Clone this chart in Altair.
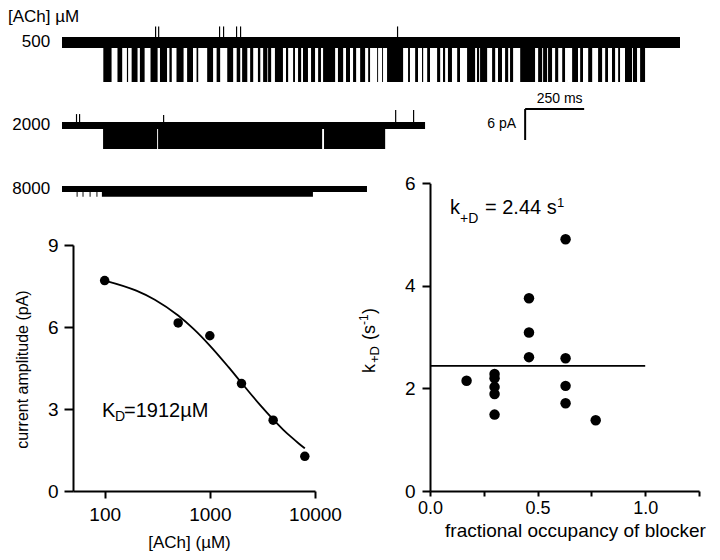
import altair as alt
import pandas as pd

# ---------------- data ----------------
# single-channel traces (times in ms from trace start, currents in pA)
conc = [500, 2000, 8000]
trace_len_ms = [2618, 1538, 1292]
trace_offset_pA = [0.0, -16.05, -28.34]
trace_noise_pA = [1.05, 0.68, 0.60]
open_noise_pA = [1.5, 0.6, 0.25]

openings_500 = [
    (175, 210), (235, 255), (275, 280), (295, 320), (330, 350), (375, 405), (415, 445),
    (455, 465), (485, 515), (530, 555), (570, 577), (615, 640), (655, 670), (700, 725),
    (740, 755), (763, 785), (797, 810), (830, 840), (852, 870), (873, 886), (902, 936),
    (949, 958), (979, 987), (1000, 1013), (1021, 1042), (1055, 1072), (1085, 1097),
    (1106, 1157), (1169, 1191), (1203, 1220), (1233, 1246), (1263, 1284), (1297, 1305),
    (1335, 1339), (1356, 1360), (1377, 1445), (1466, 1474), (1496, 1508), (1525, 1530),
    (1547, 1559), (1589, 1602), (1614, 1623), (1635, 1652), (1674, 1686), (1716, 1750),
    (1758, 1767), (1771, 1801), (1822, 1835), (1847, 1864), (1877, 1890), (1898, 1911),
    (1941, 2004), (2017, 2034), (2038, 2055), (2059, 2076), (2089, 2102), (2119, 2131),
    (2161, 2186), (2195, 2207), (2229, 2246), (2271, 2288), (2301, 2313), (2330, 2343),
    (2356, 2364), (2385, 2415), (2419, 2436), (2449, 2470),
]
openings_2000 = [(174, 403), (407, 1102), (1110, 1369)]
openings_8000 = [(62, 66), (87, 91), (117, 121), (146, 150), (169, 1063)]

spikes_500 = [394, 407, 665, 682, 737, 754, 1419]
spike_h_500 = [3.1, 3.1, 3.1, 3.1, 3.1, 3.1, 3.1]
spikes_2000 = [59, 72, 428, 1411, 1487]
spike_h_2000 = [2.2, 2.2, 2.0, 3.0, 3.0]

scalebar_ms = 250
scalebar_pA = 6

# dose-response
ach_uM = [100, 500, 1000, 2000, 4000, 8000]
amp_pA = [7.7, 6.15, 5.68, 3.93, 2.59, 1.27]
fit_conc = [100, 200, 300, 500, 700, 1000, 1500, 2000, 3000, 4000, 5000, 6000, 7000, 8000]
fit_amp = [7.70, 7.33, 7.00, 6.42, 5.93, 5.32, 4.54, 3.96, 3.15, 2.62, 2.24, 1.96, 1.74, 1.56]

# blocking rate vs occupancy
occupancy = [0.17, 0.30, 0.30, 0.30, 0.30, 0.30, 0.46, 0.46, 0.46, 0.63, 0.63, 0.63, 0.63, 0.77]
k_plus_D = [2.15, 2.28, 2.20, 2.03, 1.89, 1.49, 3.76, 3.09, 2.61, 4.91, 2.59, 2.05, 1.71, 1.38]
k_mean = 2.44
k_line_x = [0.0, 1.0]

# ---------------- tables ----------------
trace_amp = [amp_pA[ach_uM.index(c)] for c in conc]
base_rows, open_rows, spike_rows = [], [], []
all_openings = [openings_500, openings_2000, openings_8000]
for i, c in enumerate(conc):
    off = trace_offset_pA[i]
    base_rows.append(dict(t0=0, t1=trace_len_ms[i], y0=off + trace_noise_pA[i], y1=off - trace_noise_pA[i]))
    for (a, b) in all_openings[i]:
        open_rows.append(dict(t0=a, t1=b, y0=off, y1=off - trace_amp[i] - open_noise_pA[i]))
for t, h in zip(spikes_500, spike_h_500):
    spike_rows.append(dict(t0=t, t1=t + 5, y0=trace_offset_pA[0], y1=trace_offset_pA[0] + h))
for t, h in zip(spikes_2000, spike_h_2000):
    spike_rows.append(dict(t0=t, t1=t + 5, y0=trace_offset_pA[1], y1=trace_offset_pA[1] + h))
base_df = pd.DataFrame(base_rows)
open_df = pd.DataFrame(open_rows)
spike_df = pd.DataFrame(spike_rows)
lab_df = pd.DataFrame({"t": [-50] * 3, "y": trace_offset_pA, "txt": [str(c) for c in conc]})

sb_t0, sb_y0 = 1962, -12.86
sbh_df = pd.DataFrame({"t0": [sb_t0], "t1": [sb_t0 + scalebar_ms], "y": [sb_y0]})
sbv_df = pd.DataFrame({"t": [sb_t0], "y0": [sb_y0], "y1": [sb_y0 - scalebar_pA]})

dr_df = pd.DataFrame({"c": ach_uM, "a": amp_pA})
fit_df = pd.DataFrame({"c": fit_conc, "a": fit_amp})
occ_df = pd.DataFrame({"o": occupancy, "k": k_plus_D})
kline_df = pd.DataFrame({"x0": [k_line_x[0]], "x1": [k_line_x[1]], "k": [k_mean]})

FONT = "Liberation Sans"

# ---------------- scales (pixel ranges inside the 704x544 view) ----------------
tx = alt.Scale(domain=[0, 2618], range=[54, 672], nice=False, zero=False)
ty = alt.Scale(domain=[-36, 4], range=[220.6, 13.8], nice=False, zero=False)
lx = alt.Scale(type="log", domain=[50, 10000], range=[65, 307], nice=False)
ly = alt.Scale(domain=[0, 9], range=[483, 237], nice=False, zero=False)
rx = alt.Scale(domain=[0, 1.25], range=[422, 691], nice=False, zero=False)
ry = alt.Scale(domain=[0, 6], range=[483, 175.3], nice=False, zero=False)


def rects(df):
    return alt.Chart(df).mark_rect(color="black").encode(
        x=alt.X("t0:Q", scale=tx, axis=None), x2="t1:Q",
        y=alt.Y("y0:Q", scale=ty, axis=None), y2="y1:Q")


def note(xv, yv, text, xs, ys, **mk):
    d = pd.DataFrame({"x": [xv], "y": [yv], "t": [text]})
    return alt.Chart(d).mark_text(font=FONT, color="black", **mk).encode(
        x=alt.X("x:Q", scale=xs, axis=None), y=alt.Y("y:Q", scale=ys, axis=None), text="t:N")


layers = [
    rects(base_df), rects(open_df), rects(spike_df),
    alt.Chart(lab_df).mark_text(font=FONT, fontSize=17, align="right", baseline="middle", color="black").encode(
        x=alt.X("t:Q", scale=tx, axis=None), y=alt.Y("y:Q", scale=ty, axis=None), text="txt:N"),
    note(-229, 5.0, "[ACh] µM", tx, ty, fontSize=17, align="left", baseline="middle"),
    alt.Chart(sbh_df).mark_rule(color="black", strokeWidth=2).encode(
        x=alt.X("t0:Q", scale=tx, axis=None), x2="t1:Q", y=alt.Y("y:Q", scale=ty, axis=None)),
    alt.Chart(sbv_df).mark_rule(color="black", strokeWidth=2).encode(
        x=alt.X("t:Q", scale=tx, axis=None), y=alt.Y("y0:Q", scale=ty, axis=None), y2="y1:Q"),
    note(sb_t0 + scalebar_ms / 2, sb_y0, f"{scalebar_ms} ms", tx, ty, fontSize=14, align="center",
         baseline="middle", dx=5, dy=-10),
    note(sb_t0, sb_y0 - scalebar_pA / 2, f"{scalebar_pA} pA", tx, ty, fontSize=14, align="right",
         baseline="middle", dx=-9),
    # ---- dose-response panel ----
    alt.Chart(fit_df).mark_line(color="black", strokeWidth=1.8, interpolate="monotone").encode(
        x=alt.X("c:Q", scale=lx, axis=None), y=alt.Y("a:Q", scale=ly, axis=None)),
    alt.Chart(dr_df).mark_circle(color="black", opacity=1, size=90).encode(
        x=alt.X("c:Q", scale=lx, axis=alt.Axis(
            orient="bottom", offset=-61, values=[100, 1000, 10000], format="d", tickSize=7,
            labelPadding=7, labelFlush=False, title="[ACh] (µM)", titleFontSize=17,
            titleX=181, titleY=56, titleBaseline="alphabetic", titleAlign="center")),
        y=alt.Y("a:Q", scale=ly, axis=alt.Axis(
            orient="left", offset=-65, values=[0, 3, 6, 9], tickSize=9, labelPadding=6,
            labelFlush=False, title="current amplitude (pA)", titleFontSize=16,
            titleX=-51, titleY=361, titleAngle=270, titleBaseline="middle", titleAlign="center"))),
    note(94.3, 2.71, "K", lx, ly, fontSize=20, align="left", baseline="alphabetic"),
    note(94.3, 2.71, "D", lx, ly, fontSize=14, align="left", baseline="alphabetic", dx=13, dy=4),
    note(94.3, 2.71, "=1912µM", lx, ly, fontSize=20, align="left", baseline="alphabetic", dx=22),
    # ---- rate vs occupancy panel ----
    alt.Chart(kline_df).mark_rule(color="black", strokeWidth=1.6).encode(
        x=alt.X("x0:Q", scale=rx, axis=None), x2="x1:Q", y=alt.Y("k:Q", scale=ry, axis=None)),
    alt.Chart(occ_df).mark_circle(color="black", opacity=1, size=110).encode(
        x=alt.X("o:Q", scale=rx, axis=alt.Axis(
            orient="bottom", offset=-61, values=[0, 0.25, 0.5, 0.75, 1.0, 1.25], tickSize=5,
            labelPadding=3, labelFlush=False, labelFontSize=18,
            labelExpr="(datum.value == 0 || datum.value == 0.5 || datum.value == 1) ? format(datum.value, '.1f') : ''",
            title="fractional occupancy of blocker", titleFontSize=19,
            titleX=567, titleY=45, titleBaseline="alphabetic", titleAlign="center")),
        y=alt.Y("k:Q", scale=ry, axis=alt.Axis(
            orient="left", offset=-422, values=[0, 2, 4, 6], tickSize=8, labelPadding=7,
            labelFlush=False, title=None))),
    note(0.093, 5.40, "k", rx, ry, fontSize=20, align="left", baseline="alphabetic"),
    note(0.093, 5.40, "+D", rx, ry, fontSize=14, align="left", baseline="alphabetic", dx=10, dy=9),
    note(0.093, 5.40, f"= {k_mean} s", rx, ry, fontSize=20, align="left", baseline="alphabetic", dx=35),
    note(0.093, 5.40, "1", rx, ry, fontSize=13, align="left", baseline="alphabetic", dx=107, dy=-7),
    note(-0.256, 2.30, "k", rx, ry, fontSize=18, angle=270, align="left", baseline="alphabetic"),
    note(-0.256, 2.30, "+D", rx, ry, fontSize=13, angle=270, align="left", baseline="alphabetic", dx=10, dy=4),
    note(-0.256, 2.30, "(s", rx, ry, fontSize=18, angle=270, align="left", baseline="alphabetic", dx=33),
    note(-0.256, 2.30, "-1", rx, ry, fontSize=12, angle=270, align="left", baseline="alphabetic", dx=48, dy=-7),
    note(-0.256, 2.30, ")", rx, ry, fontSize=18, angle=270, align="left", baseline="alphabetic", dx=59),
]

chart = alt.layer(*layers).resolve_scale(x="independent", y="independent").properties(
    width=704, height=544, autosize=alt.AutoSizeParams(type="none"), padding=0
).configure_view(stroke=None).configure_axis(
    grid=False, domainColor="black", tickColor="black", labelColor="black", titleColor="black",
    domainWidth=2, tickWidth=2, labelFont=FONT, titleFont=FONT, labelFontSize=19,
    titleFontWeight="normal"
)

chart.save("out.html", embed_options={"renderer": "svg", "actions": False})
